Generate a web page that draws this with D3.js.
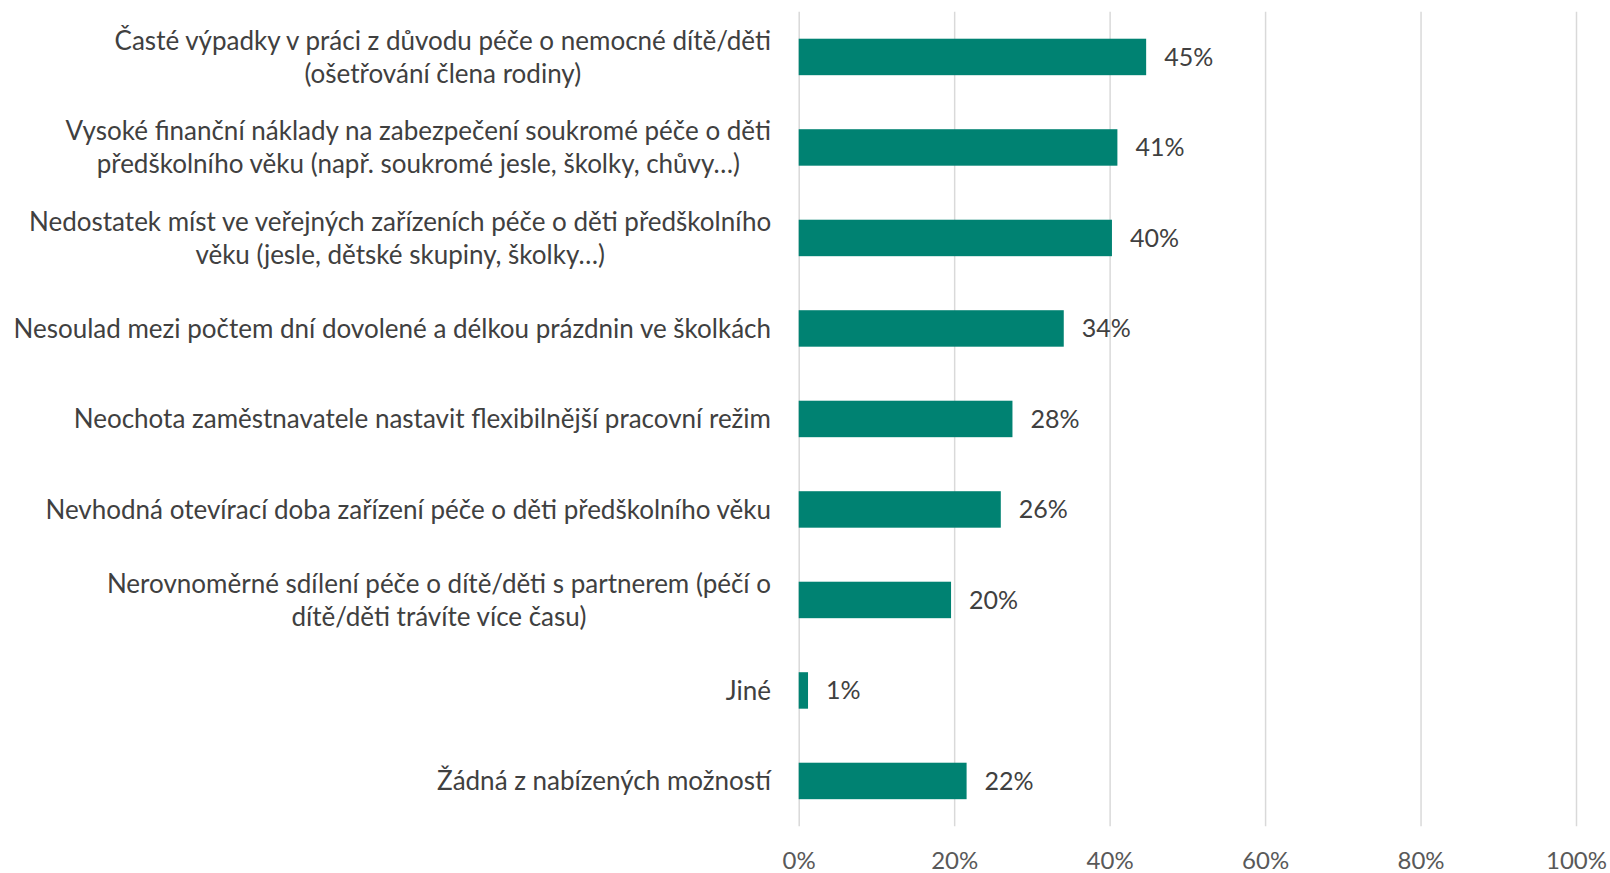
<!DOCTYPE html>
<html>
<head>
<meta charset="utf-8">
<script src="https://cdn.jsdelivr.net/npm/d3@7"></script>
<style>
  html, body { margin: 0; padding: 0; background: #fff; }
  svg { display: block; font-family: Lato, "Open Sans", sans-serif; }
</style>
</head>
<body>
<div id="chart"></div>
<script>
// Horizontal bar chart: reasons (share of respondents, %)

const categories = [
  "Časté výpadky v práci z důvodu péče o nemocné dítě/děti\n(ošetřování člena rodiny)",
  "Vysoké finanční náklady na zabezpečení soukromé péče o děti\npředškolního věku (např. soukromé jesle, školky, chůvy…)",
  "Nedostatek míst ve veřejných zařízeních péče o děti předškolního\nvěku (jesle, dětské skupiny, školky…)",
  "Nesoulad mezi počtem dní dovolené a délkou prázdnin ve školkách",
  "Neochota zaměstnavatele nastavit flexibilnější pracovní režim",
  "Nevhodná otevírací doba zařízení péče o děti předškolního věku",
  "Nerovnoměrné sdílení péče o dítě/děti s partnerem (péčí o\ndítě/děti trávíte více času)",
  "Jiné",
  "Žádná z nabízených možností"
];
const values = [44.7, 41.0, 40.3, 34.1, 27.5, 26.0, 19.6, 1.2, 21.6];
const tickValues = [0, 20, 40, 60, 80, 100];

const WIDTH = 1610, HEIGHT = 873;
const plot = {left: 798.7, right: 1576, top: 11.7, bottom: 826.2};
const labelRight = 771;
const catFont = 26;

const svg = d3.select("#chart").append("svg")
  .attr("width", WIDTH)
  .attr("height", HEIGHT);

const x = d3.scaleLinear().domain([0, 100]).range([plot.left, plot.right]);
const y = d3.scaleBand()
  .domain(categories)
  .range([plot.top, plot.bottom])
  .paddingInner(0.597)
  .paddingOuter(0.2985);

// gridlines
const grid = svg.append("g")
  .attr("transform", `translate(0,${plot.bottom})`)
  .call(d3.axisBottom(x).tickValues(tickValues).tickSize(-(plot.bottom - plot.top)).tickFormat(""));
grid.select(".domain").remove();
grid.selectAll("line").attr("stroke", "#d9d9d9").attr("stroke-width", 1.5);

// tick labels
const xAxis = svg.append("g")
  .attr("transform", `translate(0,${plot.bottom})`)
  .call(d3.axisBottom(x).tickValues(tickValues).tickSize(0).tickPadding(26).tickFormat(d => d + "%"));
xAxis.select(".domain").remove();
xAxis.selectAll("text")
  .attr("font-family", "Lato, sans-serif")
  .attr("font-size", 24)
  .attr("fill", "#595959");

// bars
svg.append("g").selectAll("rect")
  .data(values)
  .join("rect")
  .attr("x", x(0))
  .attr("y", (d, i) => y(categories[i]))
  .attr("width", d => x(d) - x(0))
  .attr("height", y.bandwidth())
  .attr("fill", "#008272");

// data labels
svg.append("g").selectAll("text")
  .data(values)
  .join("text")
  .attr("x", d => x(d) + 18)
  .attr("y", (d, i) => y(categories[i]) + y.bandwidth() / 2)
  .attr("dy", "0.36em")
  .attr("font-size", 25)
  .attr("fill", "#404040")
  .text(d => Math.round(d) + "%");

// category labels: wrapped lines centred on each other, block right aligned
const lineH = 33;
const labels = svg.append("g").selectAll("text")
  .data(categories)
  .join("text")
  .attr("text-anchor", "middle")
  .attr("font-size", catFont)
  .attr("fill", "#404040")
  .attr("y", d => y(d) + y.bandwidth() / 2);

labels.each(function(d) {
  const lines = d.split("\n");
  const t = d3.select(this);
  const spans = lines.map((ln, i) => t.append("tspan")
      .attr("dy", i === 0 ? `${0.36 * catFont - (lines.length - 1) * lineH / 2}px` : `${lineH}px`)
      .text(ln));
  const maxW = d3.max(spans, s => s.node().getComputedTextLength());
  spans.forEach(s => s.attr("x", labelRight - maxW / 2));
});
</script>
</body>
</html>
